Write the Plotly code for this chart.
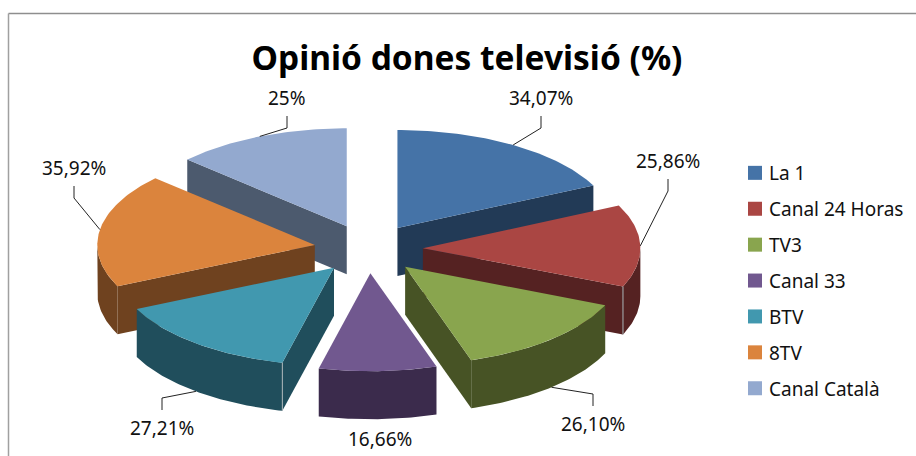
import math
import plotly.graph_objects as go

categories = ["La 1", "Canal 24 Horas", "TV3", "Canal 33", "BTV", "8TV", "Canal Català"]
values = [34.07, 25.86, 26.10, 16.66, 27.21, 35.92, 25]
value_labels = ["34,07%", "25,86%", "26,10%", "16,66%", "27,21%", "35,92%", "25%"]
top_colors = ["#4573A7", "#AA4643", "#89A54E", "#71588F", "#4198AF", "#DB843D", "#93A9CF"]
side_colors = ["#223A56", "#552222", "#475325", "#3B2B4C", "#204E5C", "#6F421F", "#4C5A6E"]

# pie geometry, in pixels of the 916x456 page
W, H = 916, 456
CX, CY = 368.5, 248.7
RX, RY = 217.5, 98
EXPLODE = 0.25
DEPTH = 48
# label centre and elbow point relative to the label, per slice
label_pos = [(541, 98), (668, 161), (593, 424), (380, 439), (162, 428), (74, 168), (287, 98)]
has_leader = [True, True, True, False, True, True, True]
leader_dir = [1, 1, -1, 0, -1, 1, 1]
light_corner = [False, True, False, False, True, False, False]

total = sum(values)
slices = []
a = 0.0
for i, v in enumerate(values):
    span = v / total * 360
    slices.append((i, a, a + span))
    a += span


def pt(ax, ay, deg, dy=0.0):
    r = math.radians(deg)
    return ax + RX * math.sin(r), ay - RY * math.cos(r) + dy


def apex(mid):
    r = math.radians(mid)
    return CX + EXPLODE * RX * math.sin(r), CY - EXPLODE * RY * math.cos(r)


def poly(points, color):
    xs = [p[0] for p in points] + [points[0][0]]
    ys = [p[1] for p in points] + [points[0][1]]
    return go.Scatter(x=xs, y=ys, mode="lines", fill="toself", fillcolor=color,
                      line=dict(width=0, color=color), hoverinfo="skip", showlegend=False)


def arc(ax, ay, a0, a1, dy=0.0):
    n = max(2, int(abs(a1 - a0)) + 1)
    return [pt(ax, ay, a0 + (a1 - a0) * k / n, dy) for k in range(n + 1)]


fig = go.Figure()
# paint from the back of the pie to the front
order = sorted(slices, key=lambda s: apex((s[1] + s[2]) / 2)[1])
for i, a0, a1 in order:
    ax, ay = apex((a0 + a1) / 2)
    # radial walls
    if a1 < 180:
        e = pt(ax, ay, a1)
        fig.add_trace(poly([(ax, ay), e, (e[0], e[1] + DEPTH), (ax, ay + DEPTH)], side_colors[i]))
    if a0 > 180:
        e = pt(ax, ay, a0)
        fig.add_trace(poly([(ax, ay), e, (e[0], e[1] + DEPTH), (ax, ay + DEPTH)], side_colors[i]))
    # outer rim
    lo, hi = max(a0, 90), min(a1, 270)
    if hi > lo:
        fig.add_trace(poly(arc(ax, ay, lo, hi) + arc(ax, ay, hi, lo, DEPTH), side_colors[i]))
    # top face
    fig.add_trace(poly([(ax, ay)] + arc(ax, ay, a0, a1), top_colors[i]))
    if light_corner[i]:
        c = pt(ax, ay, a1 if a1 < 180 else a0)
        fig.add_trace(go.Scatter(x=[c[0], c[0]], y=[c[1], c[1] + DEPTH], mode="lines",
                                 line=dict(width=1, color="#A9B4B8"), hoverinfo="skip", showlegend=False))

# leader lines, from the middle of each slice's rim to its label
for i, a0, a1 in slices:
    if not has_leader[i]:
        continue
    mid = (a0 + a1) / 2
    ax, ay = apex(mid)
    sx, sy = pt(ax, ay, mid, DEPTH if 100 < mid < 260 else 0)
    lx, ly = label_pos[i]
    d = leader_dir[i]
    fig.add_trace(go.Scatter(x=[sx, lx, lx], y=[sy, ly + d * 30, ly + d * 18], mode="lines",
                             line=dict(width=1, color="#222222"), hoverinfo="skip", showlegend=False))

# legend entries
for i, name in enumerate(categories):
    fig.add_trace(go.Scatter(x=[None], y=[None], mode="markers", name=name, legendgroup=name,
                             marker=dict(symbol="square", size=14, color=top_colors[i], angle=90, standoff=6,
                                         line=dict(width=0))))

FONT = "Noto Sans"
fig.update_layout(
    width=W, height=H, autosize=False,
    margin=dict(l=0, r=0, t=0, b=0),
    paper_bgcolor="white", plot_bgcolor="white",
    xaxis=dict(range=[0, W], visible=False, fixedrange=True),
    yaxis=dict(range=[H, 0], visible=False, fixedrange=True),
    title=dict(text="<b>Opinió dones televisió (%)</b>", x=467 / W, xanchor="center",
               y=1 - 58 / H, yanchor="middle", font=dict(family=FONT, size=33.5, color="black")),
    legend=dict(x=736 / W, xanchor="left", y=1 - 154 / H, yanchor="top", tracegroupgap=8.2,
                font=dict(family=FONT, size=19, color="#111111"), bgcolor="rgba(0,0,0,0)",
                itemwidth=30, indentation=-7, itemclick=False, itemdoubleclick=False),
    shapes=[
        dict(type="line", xref="x", yref="y", x0=8.5, x1=W, y0=13.5, y1=13.5, line=dict(color="#8E8E8E", width=1.5)),
        dict(type="line", xref="x", yref="y", x0=8.5, x1=8.5, y0=13.5, y1=H, line=dict(color="#A0A0A0", width=1.5)),
    ],
    annotations=[dict(x=p[0], y=p[1], text=t, showarrow=False, xanchor="center", yanchor="middle",
                      font=dict(family=FONT, size=19, color="#111111"))
                 for p, t in zip(label_pos, value_labels)],
)
fig.write_html("out.html", config=dict(displayModeBar=False),
               post_script="document.body.style.margin='0';")
